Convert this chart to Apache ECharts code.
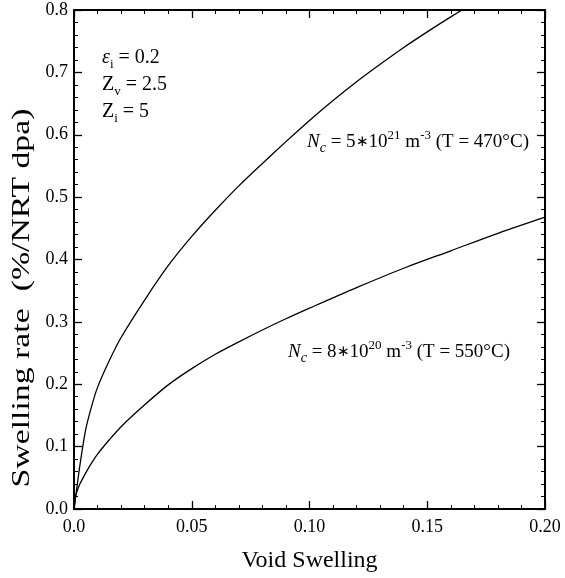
<!DOCTYPE html>
<html>
<head>
<meta charset="utf-8">
<script src="https://cdn.jsdelivr.net/npm/echarts@6/dist/echarts.min.js"></script>
<style>html,body{margin:0;padding:0;background:#fff}#c{width:565px;height:578px}</style>
</head>
<body>
<div id="c"></div>
<script>
var xTickLabels = ['0.0', '0.05', '0.10', '0.15', '0.20'];
var yTickLabels = ['0.0', '0.1', '0.2', '0.3', '0.4', '0.5', '0.6', '0.7', '0.8'];
var xTitle = 'Void Swelling';
var yTitle = 'Swelling rate  (%/NRT dpa)';

var upperX = [0, 0.0005, 0.001, 0.0025, 0.005, 0.0075, 0.01, 0.015, 0.02, 0.03, 0.04, 0.05, 0.06, 0.07, 0.08, 0.09, 0.10, 0.11, 0.12, 0.13, 0.14, 0.15, 0.16, 0.17];
var upperY = [0, 0.014, 0.028, 0.07, 0.128, 0.165, 0.195, 0.238, 0.275, 0.335, 0.39, 0.437, 0.479, 0.518, 0.554, 0.589, 0.623, 0.655, 0.685, 0.713, 0.740, 0.765, 0.789, 0.812];

var lowerX = [0, 0.0005, 0.001, 0.0025, 0.005, 0.0075, 0.01, 0.015, 0.02, 0.03, 0.04, 0.05, 0.06, 0.07, 0.08, 0.09, 0.10, 0.12, 0.14, 0.16, 0.18, 0.20];
var lowerY = [0, 0.016, 0.025, 0.04, 0.058, 0.074, 0.088, 0.111, 0.132, 0.167, 0.199, 0.225, 0.248, 0.268, 0.287, 0.305, 0.322, 0.355, 0.386, 0.414, 0.442, 0.468];

function pairs(xs, ys) { return xs.map(function (x, i) { return [x, ys[i]]; }); }

var FONT = "'Liberation Serif', 'Times New Roman', serif";
var chart = echarts.init(document.getElementById('c'));

function xAxisDef(pos, labels) {
  return {
    type: 'value', position: pos, min: 0, max: 0.2, interval: 0.05,
    name: labels ? xTitle : '', nameLocation: 'middle', nameGap: 40,
    nameTextStyle: { fontFamily: FONT, fontSize: 24, color: '#000' },
    axisLine: { show: true, onZero: false, lineStyle: { color: '#000', width: 2 } },
    axisTick: { show: true, inside: true, length: 8, lineStyle: { color: '#000', width: 1.3 } },
    minorTick: { show: true, splitNumber: 5, length: 4, lineStyle: { color: '#000', width: 1 } },
    splitLine: { show: false }, minorSplitLine: { show: false },
    axisLabel: {
      show: labels, showMinLabel: true, showMaxLabel: true, margin: 9,
      fontFamily: FONT, fontSize: 18, color: '#000',
      formatter: function (v) { return xTickLabels[Math.round(v / 0.05)]; }
    }
  };
}
function yAxisDef(pos, labels) {
  return {
    type: 'value', position: pos, min: 0, max: 0.8, interval: 0.1,
    axisLine: { show: true, onZero: false, lineStyle: { color: '#000', width: 2 } },
    axisTick: { show: true, inside: true, length: 8, lineStyle: { color: '#000', width: 1.3 } },
    minorTick: { show: true, splitNumber: 5, length: 4, lineStyle: { color: '#000', width: 1 } },
    splitLine: { show: false }, minorSplitLine: { show: false },
    axisLabel: {
      show: labels, showMinLabel: true, showMaxLabel: true, margin: 6,
      fontFamily: FONT, fontSize: 18, color: '#000',
      formatter: function (v) { return yTickLabels[Math.round(v / 0.1)]; }
    }
  };
}

function richSet(fs) {
  return {
    m: { fontFamily: FONT, fontSize: fs, color: '#000', lineHeight: 26 },
    it: { fontFamily: FONT, fontSize: fs, fontStyle: 'italic', color: '#000', lineHeight: 26 },
    ast: { fontFamily: FONT, fontSize: 15, color: '#000', lineHeight: 26 },
    sub: { fontFamily: FONT, fontSize: 13, color: '#000', verticalAlign: 'bottom', lineHeight: 15 },
    subit: { fontFamily: FONT, fontSize: 14, fontStyle: 'italic', color: '#000', verticalAlign: 'bottom', lineHeight: 15 },
    sup: { fontFamily: FONT, fontSize: 13, color: '#000', verticalAlign: 'top', lineHeight: 13 }
  };
}
function txt(x, y, s, fs) {
  return { type: 'text', x: x, y: y, style: { text: s, rich: richSet(fs), fill: '#000', font: fs + 'px ' + FONT } };
}

chart.setOption({
  animation: false,
  backgroundColor: '#fff',
  grid: { left: 74, right: 20, top: 10, bottom: 67 },
  xAxis: [xAxisDef('bottom', true), xAxisDef('top', false)],
  yAxis: [yAxisDef('left', true), yAxisDef('right', false)],
  series: [
    { type: 'line', data: pairs(upperX, upperY), showSymbol: false, smooth: 0.3, clip: true,
      lineStyle: { color: '#000', width: 1.3 } },
    { type: 'line', data: pairs(lowerX, lowerY), showSymbol: false, smooth: 0.3, clip: true,
      lineStyle: { color: '#000', width: 1.3 } }
  ],
  graphic: [
    { type: 'text', x: 22, y: 298, rotation: Math.PI / 2, scaleX: 1.3,
      style: { text: yTitle, font: '26px ' + FONT, fill: '#000', align: 'center', verticalAlign: 'middle' } },
    txt(102, 45, '{it|ε}{sub|i}{m| = 0.2}', 20),
    txt(102, 72, '{m|Z}{sub|v}{m| = 2.5}', 20),
    txt(102, 99, '{m|Z}{sub|i}{m| = 5}', 20),
    txt(307, 129, '{it|N}{subit|c}{m| = 5}{ast|∗}{m|10}{sup|21}{m| m}{sup|-3}{m| (T = 470°C)}', 19),
    txt(288, 339, '{it|N}{subit|c}{m| = 8}{ast|∗}{m|10}{sup|20}{m| m}{sup|-3}{m| (T = 550°C)}', 19)
  ]
});
</script>
</body>
</html>
